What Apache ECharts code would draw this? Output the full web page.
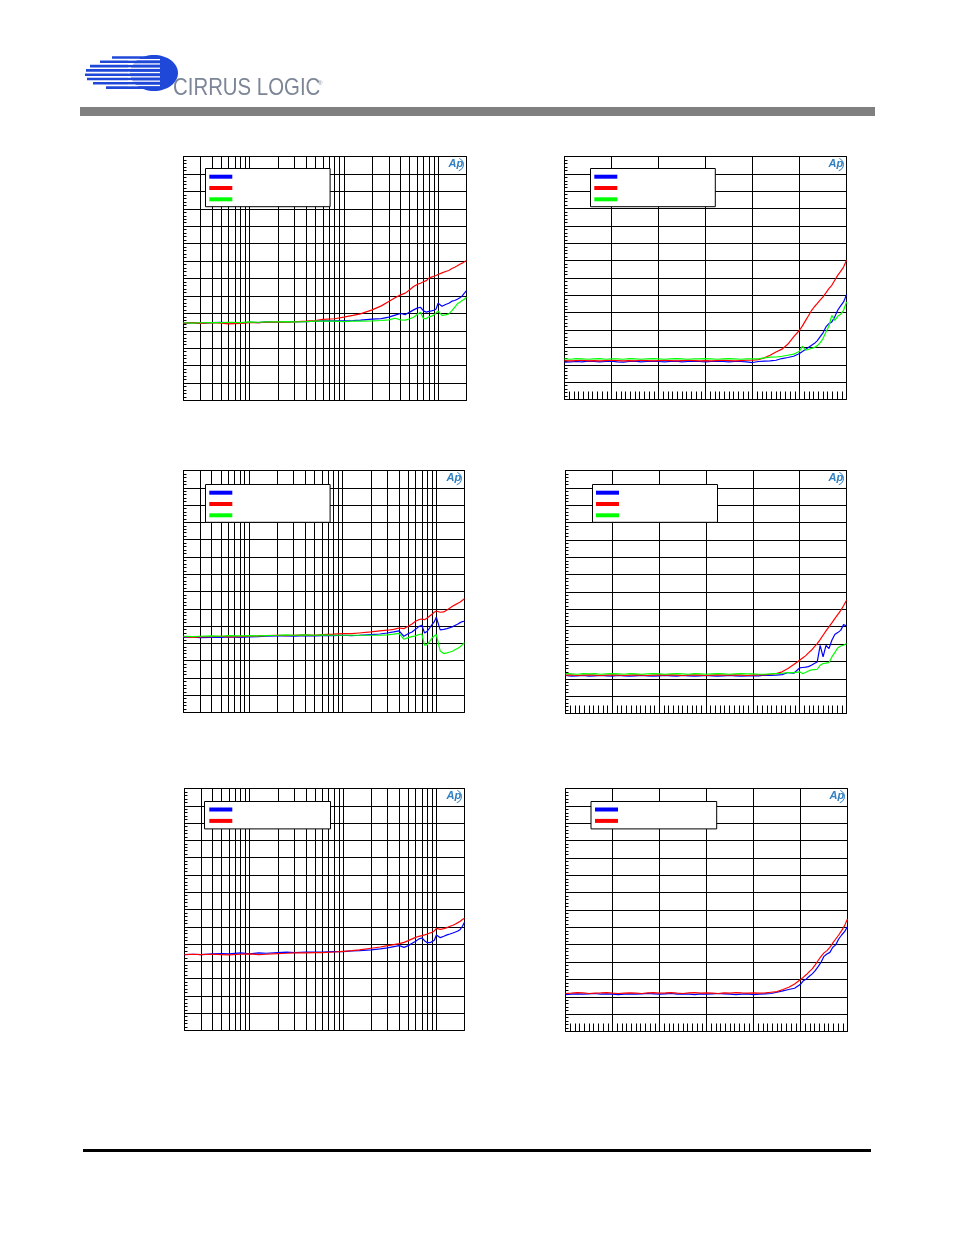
<!DOCTYPE html>
<html><head><meta charset="utf-8">
<script src="https://cdn.jsdelivr.net/npm/echarts@6/dist/echarts.min.js"></script>
<style>html,body{margin:0;padding:0;background:#fff}#c{width:954px;height:1235px}</style>
</head><body><div id="c"></div>
<script>
// ---------- DATA ----------
// Left column: log frequency axis (Hz)
const freqLog = [20,25,30,40,50,60,80,100,125,150,200,250,300,400,500,600,800,1000,1250,1500,2000,2500,3000,3500,4000,4500,5000,5500,6000,6500,7000,7500,8000,8500,9000,9500,10000,11000,12000,13000,14000,15000,16000,17000,18000,19000,20000];
// Right column: linear axis
const xLin = [0,0.5,1,1.5,2,2.5,3,3.5,4,4.5,5,5.5,6,6.5,7,7.5,8,8.5,9,9.5,10,10.5,11,11.5,12,12.5,13,13.5,14,14.5,15,15.5,16,16.5,17,17.5,18,18.5,19,19.5,20,20.25,20.5,20.75,21,21.25,21.5,21.75,22,22.25,22.5,22.75,23,23.25,23.5,23.75,24];

// Chart 1 (top left)
const c1Blue  = [-95.6,-95.3,-95.8,-95.3,-95.1,-95.4,-95.6,-95.1,-95.3,-94.9,-95.1,-94.9,-94.7,-94.7,-94.5,-94.3,-94.3,-94.3,-94.1,-93.9,-93.3,-93.0,-92.2,-91.0,-90.1,-90.7,-89.3,-88.0,-87.0,-86.5,-88.6,-89.3,-88.9,-88.6,-88.2,-87.6,-84.2,-85.9,-84.9,-84.2,-83.0,-82.6,-81.9,-81.1,-80.0,-78.4,-76.9];
const c1Red   = [-95.6,-95.3,-95.8,-95.4,-95.6,-96.0,-95.8,-95.3,-95.4,-95.1,-94.9,-95.1,-94.9,-94.5,-94.1,-93.5,-93.1,-92.2,-91.2,-90.3,-88.0,-85.7,-83.2,-81.1,-79.4,-78.4,-76.5,-74.6,-73.4,-72.7,-71.9,-71.2,-69.8,-69.2,-68.7,-68.3,-67.7,-66.8,-66.0,-65.4,-64.3,-63.5,-62.7,-61.8,-61.2,-60.4,-59.7];
const c1Green = [-95.4,-95.6,-95.4,-95.3,-95.3,-95.1,-95.3,-94.9,-95.1,-94.9,-94.9,-94.7,-94.9,-94.7,-94.5,-94.5,-94.5,-94.7,-94.5,-94.5,-94.3,-94.1,-93.7,-92.8,-93.7,-93.9,-93.1,-92.2,-90.7,-89.3,-93.0,-93.0,-92.0,-91.6,-91.0,-89.7,-88.7,-91.2,-90.9,-90.3,-88.4,-86.5,-84.5,-83.6,-82.6,-81.9,-80.7];

// Chart 2 (top right)
const c2Blue  = [-118.5,-118.3,-118.1,-118.3,-117.9,-118.1,-118.3,-118.1,-117.9,-118.3,-118.5,-118.1,-117.9,-118.3,-118.1,-117.9,-118.1,-118.3,-118.1,-117.9,-118.3,-118.1,-117.9,-118.1,-118.3,-118.1,-117.9,-118.1,-118.3,-118.1,-118.1,-118.3,-118.7,-118.1,-117.9,-117.8,-117.4,-116.4,-115.8,-115.1,-113.5,-112.4,-111.2,-110.1,-108.9,-107.8,-106.2,-103.9,-101.6,-98.2,-96.3,-95.3,-92.4,-88.6,-86.1,-83.8,-79.6];
const c2Red   = [-117.6,-117.8,-117.6,-117.4,-117.8,-117.6,-117.8,-117.6,-117.4,-117.6,-117.8,-117.6,-117.8,-117.4,-117.6,-117.8,-117.6,-117.4,-117.6,-117.8,-117.6,-117.4,-117.6,-117.8,-117.6,-117.8,-117.6,-117.4,-117.6,-117.8,-117.6,-117.4,-117.4,-117.0,-116.0,-114.5,-112.6,-111.0,-108.2,-103.9,-100.1,-97.6,-94.7,-91.9,-89.0,-86.7,-84.8,-82.8,-80.9,-78.6,-76.1,-74.2,-71.3,-68.5,-66.2,-63.7,-59.8];
const c2Green = [-116.6,-116.8,-116.4,-116.6,-116.8,-116.6,-116.4,-116.8,-116.6,-116.6,-116.8,-116.4,-116.6,-116.8,-116.6,-116.4,-116.6,-116.8,-116.6,-116.4,-116.6,-116.8,-116.6,-116.6,-116.4,-116.6,-116.8,-116.6,-116.4,-116.6,-116.8,-116.6,-116.6,-116.6,-116.0,-115.6,-115.5,-115.1,-114.5,-113.9,-112.2,-109.3,-111.6,-111.2,-110.6,-110.1,-109.1,-107.4,-104.9,-101.1,-97.8,-91.5,-94.4,-92.1,-90.9,-88.6,-83.8];

// Chart 3 (middle left)
const c3Blue  = [-96.5,-96.3,-96.7,-96.5,-96.5,-96.3,-96.5,-96.3,-96.1,-95.9,-95.7,-95.7,-95.9,-95.5,-95.7,-95.5,-95.5,-95.3,-95.5,-95.3,-94.9,-94.6,-94.0,-93.4,-92.8,-95.9,-94.4,-93.4,-91.9,-90.3,-89.5,-94.0,-93.0,-91.1,-89.2,-87.6,-84.9,-92.2,-91.9,-91.5,-90.9,-90.3,-89.5,-88.8,-88.0,-87.4,-87.2];
const c3Red   = [-96.1,-96.5,-96.3,-96.1,-95.9,-96.3,-96.1,-95.9,-95.7,-95.5,-95.3,-95.5,-95.3,-95.1,-95.3,-94.9,-94.7,-94.4,-94.4,-94.0,-93.4,-92.8,-92.4,-91.9,-91.1,-91.5,-90.1,-88.8,-87.2,-86.3,-85.9,-86.3,-85.3,-84.2,-83.2,-82.0,-81.3,-82.0,-81.8,-80.7,-79.5,-78.4,-77.6,-76.8,-76.1,-75.1,-74.1];
const c3Green = [-95.9,-96.1,-95.9,-95.7,-95.9,-95.5,-95.7,-95.5,-95.7,-95.5,-95.3,-95.1,-95.3,-95.1,-95.3,-95.1,-95.3,-95.3,-95.3,-95.3,-95.3,-95.3,-95.1,-94.7,-94.2,-97.6,-96.7,-96.1,-95.7,-94.9,-94.6,-101.1,-100.7,-98.8,-96.9,-95.7,-94.9,-104.4,-105.9,-105.5,-105.0,-104.4,-103.6,-102.8,-101.9,-100.7,-99.6];

// Chart 4 (middle right)
const c4Blue  = [-118.1,-118.5,-118.3,-118.1,-118.5,-118.3,-118.1,-118.3,-118.5,-118.1,-118.3,-118.5,-118.3,-118.1,-118.3,-118.5,-118.3,-118.1,-118.3,-118.5,-118.1,-118.3,-118.5,-118.3,-118.1,-118.3,-118.5,-118.3,-118.1,-118.3,-118.5,-118.3,-118.3,-118.3,-117.9,-118.1,-117.9,-117.6,-116.4,-116.8,-113.7,-113.5,-113.3,-113.0,-112.2,-111.2,-110.3,-100.7,-107.4,-100.7,-102.6,-97.8,-94.5,-93.4,-92.1,-88.8,-89.6];
const c4Red   = [-117.9,-117.7,-118.1,-117.9,-117.7,-117.9,-118.1,-117.9,-117.7,-117.9,-118.1,-117.9,-117.7,-117.9,-118.1,-117.9,-117.7,-117.9,-117.7,-117.9,-118.1,-117.9,-117.7,-117.9,-118.1,-117.9,-117.7,-117.9,-117.9,-117.7,-117.9,-118.1,-117.9,-117.7,-117.7,-117.4,-117.0,-116.0,-114.1,-111.8,-109.3,-108.0,-106.8,-105.1,-103.6,-101.6,-99.7,-97.4,-94.9,-92.4,-90.1,-87.8,-85.3,-83.0,-80.7,-77.9,-74.8];
const c4Green = [-117.0,-117.2,-117.4,-117.0,-117.2,-117.0,-117.4,-117.2,-117.0,-117.2,-117.4,-117.0,-117.2,-117.4,-117.2,-117.0,-117.2,-117.4,-117.2,-117.0,-117.2,-117.4,-117.0,-117.2,-117.4,-117.2,-117.0,-117.2,-117.4,-117.2,-117.0,-117.2,-117.2,-117.4,-117.4,-117.2,-117.0,-116.8,-116.4,-116.4,-116.0,-117.0,-116.4,-115.5,-114.9,-114.7,-114.5,-112.2,-111.2,-111.0,-110.7,-107.4,-104.9,-102.2,-101.1,-100.7,-99.7];

// Chart 5 (bottom left)
const c5Blue  = [-96.1,-95.9,-96.1,-95.7,-95.5,-95.7,-95.1,-95.7,-95.1,-95.3,-94.9,-94.7,-94.9,-94.6,-94.7,-94.6,-94.4,-94.4,-94.0,-93.8,-93.4,-92.8,-92.2,-91.5,-90.9,-91.9,-90.9,-89.5,-88.4,-87.0,-86.5,-88.2,-89.2,-89.2,-88.6,-87.8,-84.7,-86.3,-85.5,-84.7,-84.2,-83.6,-83.0,-82.4,-81.5,-79.7,-77.4];
const c5Red   = [-96.1,-95.9,-96.1,-95.9,-96.1,-96.3,-95.9,-95.7,-96.1,-95.9,-95.5,-95.3,-95.1,-95.1,-94.9,-94.9,-94.6,-94.2,-93.8,-93.4,-92.4,-91.7,-90.9,-90.3,-89.7,-89.0,-88.0,-87.0,-86.1,-85.5,-85.1,-84.7,-84.2,-83.6,-83.2,-82.4,-80.9,-81.5,-81.1,-80.5,-79.7,-79.1,-78.4,-77.6,-76.8,-75.8,-75.1];

// Chart 6 (bottom right)
const c6Blue  = [-118.7,-118.5,-118.3,-118.5,-118.3,-118.1,-118.5,-118.3,-118.5,-118.7,-118.5,-118.3,-118.5,-118.3,-118.1,-118.3,-118.5,-118.3,-118.1,-118.5,-118.3,-118.5,-118.7,-118.3,-118.5,-118.3,-118.1,-118.3,-118.5,-118.7,-118.5,-118.3,-118.7,-118.5,-118.3,-118.1,-117.4,-116.6,-115.8,-115.1,-112.8,-110.7,-109.7,-108.2,-106.8,-104.9,-102.6,-100.1,-96.7,-95.3,-94.4,-91.5,-90.1,-86.7,-84.4,-82.5,-79.6];
const c6Red   = [-118.1,-117.9,-117.6,-117.8,-118.1,-117.9,-117.8,-117.6,-117.9,-118.1,-117.9,-117.8,-117.9,-118.1,-117.8,-117.6,-117.9,-117.8,-117.6,-117.9,-118.1,-117.8,-117.6,-117.9,-117.8,-117.9,-118.1,-117.8,-117.9,-117.6,-117.8,-117.9,-117.8,-117.9,-117.8,-117.4,-117.0,-115.8,-114.5,-112.6,-110.1,-108.7,-107.2,-105.5,-103.9,-101.6,-99.1,-96.7,-94.7,-93.4,-91.5,-89.0,-86.7,-84.4,-81.9,-79.0,-75.2];

// y scale (unlabelled in the reference): 14 divisions
const yMin = -140, yMax = 0, yStep = 10;
const linMin = 0, linMax = 24, linStep = 4;

// ---------- LAYOUT ----------
const COL = {blue:'#0000ff', red:'#ff0000', green:'#00ff00'};
const panels = [
  {kind:'log', x:freqLog, grid:{left:183.5,top:156.5,width:283,height:244},
   series:[['blue',c1Blue],['red',c1Red],['green',c1Green]],
   legend:{left:205.5,top:168.5,pad:[6.2,92.8,5.4,3.8],gap:7.3}},
  {kind:'lin', x:xLin, grid:{left:564.5,top:156.5,width:282,height:243},
   series:[['blue',c2Blue],['red',c2Red],['green',c2Green]],
   legend:{left:590.5,top:168.5,pad:[6.2,93,5.4,3.8],gap:7.3}},
  {kind:'log', x:freqLog, grid:{left:183.5,top:470.5,width:281,height:242},
   series:[['blue',c3Blue],['red',c3Red],['green',c3Green]],
   legend:{left:205.5,top:484.5,pad:[6.2,92.8,5,3.8],gap:7.3}},
  {kind:'lin', x:xLin, grid:{left:565.5,top:470.5,width:281,height:243},
   series:[['blue',c4Blue],['red',c4Red],['green',c4Green]],
   legend:{left:592.5,top:484.5,pad:[6.2,93.5,5,3.5],gap:7.3}},
  {kind:'log', x:freqLog, grid:{left:184.5,top:788.5,width:280,height:242},
   series:[['blue',c5Blue],['red',c5Red]],
   legend:{left:204.5,top:801.5,pad:[6,93.2,6,4.8],gap:7.4}},
  {kind:'lin', x:xLin, grid:{left:565.5,top:788.5,width:282,height:243},
   series:[['blue',c6Blue],['red',c6Red]],
   legend:{left:591,top:801.5,pad:[6,93.7,6,4],gap:7.4}}
];

const grid=[], xAxis=[], yAxis=[], series=[], legend=[], graphic=[];
const black = {color:'#000', width:1};

panels.forEach((p,i)=>{
  grid.push(Object.assign({show:true, borderColor:'#000', borderWidth:1, backgroundColor:'#fff'}, p.grid));
  if (p.kind==='log') {
    xAxis.push({gridIndex:i, type:'log', logBase:10, min:20, max:20000, position:'bottom',
      axisLine:{show:false, onZero:false}, axisTick:{show:false}, axisLabel:{show:false},
      splitLine:{show:true, lineStyle:black},
      minorTick:{show:false, splitNumber:9},
      minorSplitLine:{show:true, lineStyle:black}});
  } else {
    xAxis.push({gridIndex:i, type:'value', min:linMin, max:linMax, interval:linStep, position:'bottom',
      axisLine:{show:false, onZero:false}, axisLabel:{show:false},
      axisTick:{show:true, inside:true, length:8, lineStyle:black},
      splitLine:{show:true, lineStyle:black},
      minorTick:{show:true, splitNumber:10, length:8, lineStyle:black}});
  }
  yAxis.push({gridIndex:i, type:'value', min:yMin, max:yMax, interval:yStep, position:'left',
    axisLine:{show:false, onZero:false}, axisLabel:{show:false},
    axisTick:{show:true, inside:true, length:3, lineStyle:black},
    splitLine:{show:true, lineStyle:black},
    minorTick:{show:true, splitNumber:5, length:3, lineStyle:black}});
  const names=[];
  p.series.forEach(([c,vals])=>{
    const name='p'+(i+1)+'_'+c;
    names.push(name);
    series.push({type:'line', name, xAxisIndex:i, yAxisIndex:i, color:COL[c],
      data:p.x.map((xv,k)=>[xv, vals[k]]), symbol:'none', showSymbol:false,
      lineStyle:{width:1.2, color:COL[c]}, silent:true, animation:false, z:3});
  });
  const L=p.legend;
  legend.push({data:names, orient:'vertical', left:L.left, top:L.top, padding:L.pad,
    itemWidth:23, itemHeight:4, itemGap:L.gap, itemTextGap:0, icon:'rect',
    itemStyle:{borderWidth:0}, formatter:()=>'', textStyle:{fontSize:2, lineHeight:2},
    backgroundColor:'#fff', borderColor:'#000', borderWidth:1, selectedMode:false, z:5});
  // Audio Precision mark
  const r = p.grid.left + p.grid.width, t = p.grid.top;
  graphic.push({type:'text', left:r-18, top:t+2, z:10,
    style:{text:'Ap', font:'italic bold 11px "Liberation Sans", Arial, sans-serif', fill:'#2f7fc1'}});
  graphic.push({type:'arc', shape:{cx:r-9.5, cy:t+8, r:6.5, startAngle:-1.2, endAngle:1.3}, z:10,
    style:{stroke:'#2f7fc1', lineWidth:1, fill:null}});
});

// header gray bar and footer rule
graphic.push({type:'rect', shape:{x:80,y:107,width:795,height:9}, style:{fill:'#808080'}});
graphic.push({type:'rect', shape:{x:83,y:1149,width:788,height:3}, style:{fill:'#000'}});
// logo sphere
graphic.push({type:'ellipse', shape:{cx:154,cy:73,rx:24,ry:18}, style:{fill:'#1f48d8'}});
const stripes=[[57.5,112],[61.8,100],[66.1,90],[70.4,86],[74.7,85],[79,87],[83.3,93],[87.6,106]];
stripes.forEach(([y,x0])=>{
  graphic.push({type:'rect', shape:{x:x0,y:y-1.3,width:150-x0,height:2.6}, style:{fill:'#1f48d8'}});
});
for (let k=0;k<7;k++){
  const y=(stripes[k][0]+stripes[k+1][0])/2;
  graphic.push({type:'line', shape:{x1:128,y1:y,x2:160,y2:y}, style:{stroke:'#fff', lineWidth:1.3}});
}
graphic.push({type:'text', x:173, y:100, scaleX:0.85, originX:0, originY:0,
  style:{text:'CIRRUS LOGIC', font:'24px "Liberation Sans", Arial, sans-serif', fill:'#7c8696', verticalAlign:'bottom'}});
graphic.push({type:'text', x:318, y:80,
  style:{text:'®', font:'6px "Liberation Sans", Arial, sans-serif', fill:'#7c8696'}});

const chart = echarts.init(document.getElementById('c'), null, {renderer:'canvas'});
chart.setOption({animation:false, backgroundColor:'#fff', grid, xAxis, yAxis, series, legend, graphic});
</script>
</body></html>
